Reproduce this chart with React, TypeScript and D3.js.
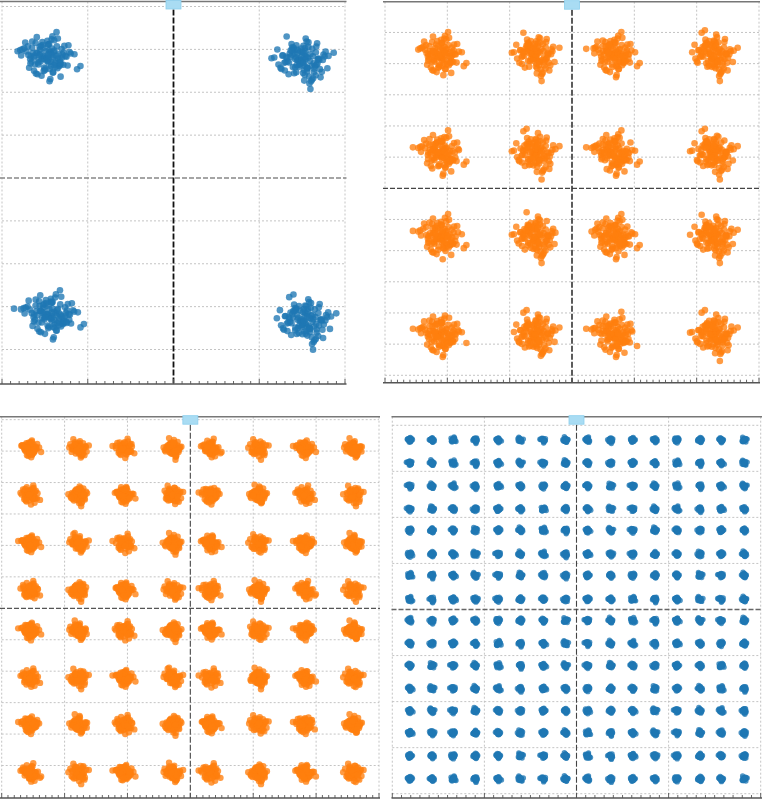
import React from "react";
import * as d3 from "d3";

// ---------- data ----------
// shared noise sample (read as typical scatter shape), reused across clusters
const jitterX = [0.12,-0.85,1.34,0.41,-0.23,-1.62,0.77,0.05,-0.48,1.05,-0.31,0.63,-1.12,0.28,0.94,-0.67,0.19,-0.04,1.71,-0.92,0.36,-0.15,0.58,-1.38,0.83,-0.56,0.09,1.22,-0.71,0.44,-0.26,-1.01,0.67,0.14,-0.39,2.08,-0.8,0.31,-0.11,0.97,-1.49,0.52,0.23,-0.62,1.15,-0.34,0.02,-0.89,0.71,0.38,-1.24,0.16,0.89,-0.45,-0.07,1.48,-0.6,0.26,-0.97,0.55,0.11,-0.29,1.03,-1.78,0.47,-0.18,0.74,-0.52,0.33,-0.02,-1.15,0.86,0.21,-0.74,1.29,-0.41,0.06,0.61,-0.99,0.4,-0.21,1.87,-0.58,0.15,-1.31,0.79,-0.09,0.49,-0.66,0.27,1.09,-0.36,-0.13,0.69,-1.07,0.34,-0.5,0.92,0.03,-0.77,1.41,-0.24,0.57,-1.56,0.18,-0.43,0.81,0.1,-0.88,0.45,-0.17,1.18,-0.64,0.29,-2.21,0.65,-0.32,0.04,0.99,-0.54];
const jitterY = [-0.44,0.31,0.92,-1.18,0.07,0.55,-0.63,1.27,-0.2,0.38,-1.45,0.84,0.16,-0.72,-0.05,1.09,-0.93,0.47,0.22,-0.36,1.62,-0.81,0.12,0.68,-0.27,-1.33,0.96,0.03,-0.58,0.41,1.17,-0.14,-0.87,0.53,0.25,-0.69,-0.02,1.38,-1.02,0.19,0.6,-0.47,-1.71,0.34,0.08,0.88,-0.3,0.73,-0.11,-1.21,0.43,1.02,-0.54,0.17,-0.9,0.28,1.55,-0.38,0.06,-0.76,0.99,-0.16,-0.6,0.45,1.31,-1.09,0.21,-0.42,0.66,-0.08,0.83,-1.52,0.37,0.11,-0.65,0.58,-0.24,1.94,-0.49,-0.01,0.71,-0.95,0.32,-0.19,1.13,-0.7,0.04,0.5,-1.27,0.26,0.87,-0.33,-0.12,1.44,-0.83,0.15,-0.57,0.62,-0.04,-1.06,0.39,0.94,-0.28,0.13,-1.88,0.79,-0.45,0.2,1.21,-0.61,0.09,-0.35,0.74,-0.98,0.51,0.02,-0.15,1.06,-0.52,0.3];

// QPSK cluster centres (I, Q) per cluster
const qpskI = [-1.48, 1.5, -1.44, 1.53];
const qpskQ = [1.41, 1.37, -1.6, -1.67];
// 16-QAM levels
const qam16I = [-2.11, -0.59, 0.67, 2.27];
const qam16Q = [2.14, 0.56, -0.78, -2.35];
// 64-QAM levels
const qam64I = [-2.55, -1.78, -1.05, -0.28, 0.32, 1.08, 1.82, 2.59];
const qam64Q = [2.54, 1.8, 1.03, 0.28, -0.36, -1.11, -1.85, -2.62];
// 256-QAM levels
const qam256I = [-1.81, -1.57, -1.34, -1.1, -0.85, -0.61, -0.36, -0.12, 0.12, 0.37, 0.61, 0.85, 1.09, 1.34, 1.57, 1.82];
const qam256Q = [1.84, 1.59, 1.34, 1.09, 0.86, 0.6, 0.37, 0.11, -0.12, -0.37, -0.61, -0.86, -1.1, -1.34, -1.59, -1.84];

const BLUE = "#1f77b4";
const ORANGE = "#ff7f0e";

type PanelCfg = {
  key: string;
  xDomain: [number, number];
  xRange: [number, number];
  cy: number;
  top: number;
  bottom: number;
  lineL: number;
  lineR: number;
  centers: [number, number][];
  n: number;
  sx: number;
  sy: number;
  r: number;
  color: string;
  vCol: string;
  hCol: string;
  vW: number;
};

const gridCenters = (I: number[], Q: number[]): [number, number][] => {
  const out: [number, number][] = [];
  Q.forEach((q) => I.forEach((i) => out.push([i, q])));
  return out;
};

const panels: PanelCfg[] = [
  {
    key: "qpsk", xDomain: [-2, 2], xRange: [2, 345], cy: 178, top: 1.5, bottom: 384,
    lineL: 0, lineR: 346.5,
    centers: qpskI.map((v, i) => [v, qpskQ[i]] as [number, number]),
    n: 110, sx: 0.19, sy: 0.15, r: 3.3, color: BLUE, vCol: "#111", hCol: "#888", vW: 1.8,
  },
  {
    key: "qam16", xDomain: [-3, 3], xRange: [385, 759], cy: 188.3, top: 1.7, bottom: 382.7,
    lineL: 383, lineR: 760,
    centers: gridCenters(qam16I, qam16Q),
    n: 100, sx: 0.2, sy: 0.19, r: 3.3, color: ORANGE, vCol: "#333", hCol: "#444", vW: 1.6,
  },
  {
    key: "qam64", xDomain: [-3, 3], xRange: [1.7, 379], cy: 608.3, top: 416.7, bottom: 798,
    lineL: 0, lineR: 380,
    centers: gridCenters(qam64I, qam64Q),
    n: 55, sx: 0.085, sy: 0.08, r: 3.2, color: ORANGE, vCol: "#555", hCol: "#555", vW: 1.2,
  },
  {
    key: "qam256", xDomain: [-2, 2], xRange: [392.3, 760.7], cy: 609.5, top: 416.7, bottom: 798,
    lineL: 391.5, lineR: 762,
    centers: gridCenters(qam256I, qam256Q),
    n: 25, sx: 0.017, sy: 0.017, r: 2.7, color: BLUE, vCol: "#444", hCol: "#666", vW: 1.1,
  },
];

function Panel({ p }: { p: PanelCfg }) {
  const x = d3.scaleLinear().domain(p.xDomain).range(p.xRange);
  const unit = (p.xRange[1] - p.xRange[0]) / (p.xDomain[1] - p.xDomain[0]);
  const y = d3.scaleLinear().domain([0, 1]).range([p.cy, p.cy - unit]);
  const cx = x(0);
  const yTopVal = y.invert(p.top);
  const yBotVal = y.invert(p.bottom);
  const xGrid = d3.range(Math.ceil(p.xDomain[0]), Math.floor(p.xDomain[1]) + 1).filter((v) => v !== 0);
  const yGrid = d3
    .range(Math.ceil(yBotVal * 2), Math.floor(yTopVal * 2) + 1)
    .map((v) => v / 2)
    .filter((v) => v !== 0 && y(v) > p.top + 1 && y(v) < p.bottom - 1.5);
  const ticks = d3.range(Math.round(p.xDomain[0] * 10), Math.round(p.xDomain[1] * 10) + 1);
  const L = Math.min(jitterX.length, jitterY.length);
  const pts: { px: number; py: number }[] = [];
  p.centers.forEach(([ci, cq], k) => {
    const start = (k * 37) % L;
    for (let j = 0; j < p.n; j++) {
      const idx = (start + j) % L;
      const jx = k % 2 === 0 ? jitterX[idx] : jitterY[idx];
      const jy = k % 2 === 0 ? jitterY[idx] : jitterX[idx];
      pts.push({ px: x(ci + jx * p.sx), py: y(cq + jy * p.sy) });
    }
  });
  return (
    <g>
      {xGrid.map((v) => (
        <line key={"gx" + v} x1={x(v)} x2={x(v)} y1={p.top} y2={p.bottom}
          stroke="#bdbdbd" strokeWidth={0.9} strokeDasharray="2,2" />
      ))}
      {yGrid.map((v) => (
        <line key={"gy" + v} x1={p.xRange[0]} x2={p.xRange[1]} y1={y(v)} y2={y(v)}
          stroke="#bdbdbd" strokeWidth={0.9} strokeDasharray="2,2" />
      ))}
      {pts.map((d, i) => (
        <circle key={i} cx={d.px} cy={d.py} r={p.r} fill={p.color} fillOpacity={0.78} />
      ))}
      <line x1={p.lineL} x2={p.lineR} y1={p.cy} y2={p.cy} stroke={p.hCol} strokeWidth={1.3} strokeDasharray="5,2" />
      <line x1={cx} x2={cx} y1={p.top} y2={p.bottom} stroke={p.vCol} strokeWidth={p.vW} strokeDasharray="6,2" />
      <line x1={p.lineL} x2={p.lineR} y1={p.top} y2={p.top} stroke="#777" strokeWidth={1.4} />
      <line x1={p.lineL} x2={p.lineR} y1={p.bottom} y2={p.bottom} stroke="#555" strokeWidth={1.5} />
      {ticks.map((t) => (
        <line key={"t" + t} x1={x(t / 10)} x2={x(t / 10)} y1={p.bottom} y2={p.bottom - (t % 10 === 0 ? 5 : 3)}
          stroke="#555" strokeWidth={0.9} />
      ))}
      <rect x={cx - 7.5} y={p.top - 1} width={15} height={8.5} fill="#a9dcf3" stroke="#8ccfee" strokeWidth={0.8} />
    </g>
  );
}

export default function App() {
  return (
    <svg width={763} height={803} style={{ position: "absolute", left: 0, top: 0, background: "#fff" }}>
      <rect x={0} y={0} width={763} height={803} fill="#fff" />
      {panels.map((p) => (
        <Panel key={p.key} p={p} />
      ))}
    </svg>
  );
}
